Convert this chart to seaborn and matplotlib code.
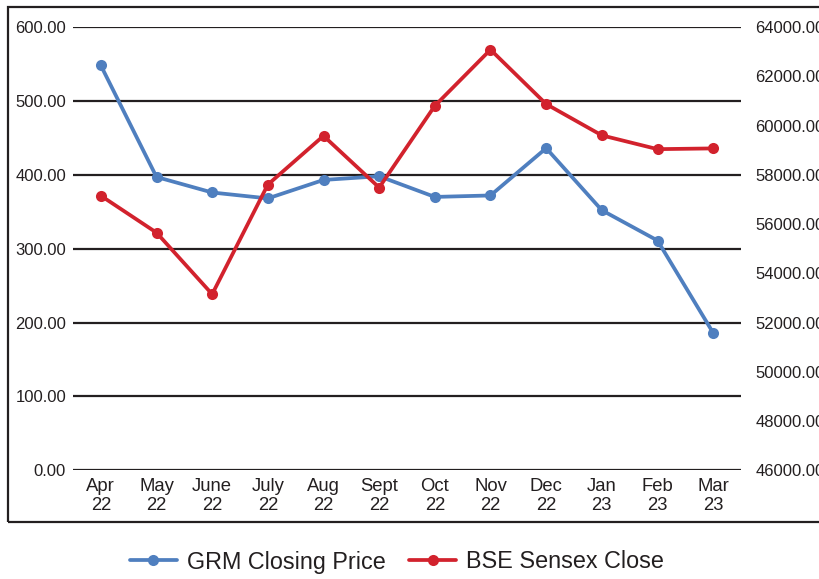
import pandas as pd
import numpy as np
import matplotlib.pyplot as plt
import seaborn as sns
from matplotlib.patches import Rectangle

months = ["Apr\n22", "May\n22", "June\n22", "July\n22", "Aug\n22", "Sept\n22",
          "Oct\n22", "Nov\n22", "Dec\n22", "Jan\n23", "Feb\n23", "Mar\n23"]
grm_close = [548, 397, 376, 368, 393, 398, 370, 372, 436, 352, 311, 186]
sensex_close = [57150, 55650, 53150, 57600, 59580, 57480, 60800, 63080, 60870, 59600, 59040, 59070]

left_ticks = [0, 100, 200, 300, 400, 500, 600]
right_ticks = [46000, 48000, 50000, 52000, 54000, 56000, 58000, 60000, 62000, 64000]

blue = '#4f7fbf'
red = '#d2222d'
ink = '#231f20'

sns.set_style("white")
plt.rcParams['font.family'] = ['Liberation Sans', 'DejaVu Sans']

df = pd.DataFrame({"month": range(len(months)), "grm": grm_close, "sensex": sensex_close})

fig = plt.figure(figsize=(8.19, 5.79), dpi=100)
ax = fig.add_axes([73/819, 1 - 470.3/579, (741 - 73)/819, (470.3 - 27)/579])

sns.lineplot(data=df, x="month", y="grm", ax=ax, color=blue, lw=2.7, marker='o',
             markersize=8, markeredgewidth=0, sort=False, label="GRM Closing Price")
ax.set_ylim(0, 600)
ax.set_xlim(-0.5, len(months) - 0.5)
ax.set_yticks(left_ticks)
ax.set_yticklabels([f"{v:.2f}" for v in left_ticks], fontsize=12, color=ink)
ax.set_xticks(range(len(months)))
ax.set_xticklabels(months, fontsize=13.3, color=ink, linespacing=1.17)
ax.tick_params(length=0)
ax.tick_params(axis='y', pad=5)
ax.tick_params(axis='x', pad=5.5)
ax.yaxis.grid(True, color=ink, lw=1.6)
ax.set_axisbelow(True)
ax.set_xlabel("")
ax.set_ylabel("")
for s in ax.spines.values():
    s.set_visible(False)

ax2 = ax.twinx()
sns.lineplot(data=df, x="month", y="sensex", ax=ax2, color=red, lw=2.7, marker='o',
             markersize=8, markeredgewidth=0, sort=False, label="BSE Sensex Close")
ax2.set_ylim(46000, 64000)
ax2.set_yticks(right_ticks)
ax2.set_yticklabels([f"{v:.2f}" for v in right_ticks], fontsize=12, color=ink)
ax2.tick_params(length=0, pad=10.5)
ax2.set_ylabel("")
ax2.grid(False)
for s in ax2.spines.values():
    s.set_visible(False)

h1, l1 = ax.get_legend_handles_labels()
h2, l2 = ax2.get_legend_handles_labels()
ax.get_legend().remove()
ax2.get_legend().remove()
fig.legend(h1 + h2, l1 + l2, loc='center', bbox_to_anchor=(0.4847, 1 - 562/579), ncol=2,
           frameon=False, fontsize=16.8, handlelength=2.0, handletextpad=0.43,
           columnspacing=1.03, labelcolor=ink, borderaxespad=0, borderpad=0)

fig.add_artist(Rectangle((8/819, 1 - 522/579), 1.0, (522 - 7)/579, transform=fig.transFigure,
                         fill=False, edgecolor=ink, lw=1.6, clip_on=False))

fig.savefig("out.png", dpi=100)
